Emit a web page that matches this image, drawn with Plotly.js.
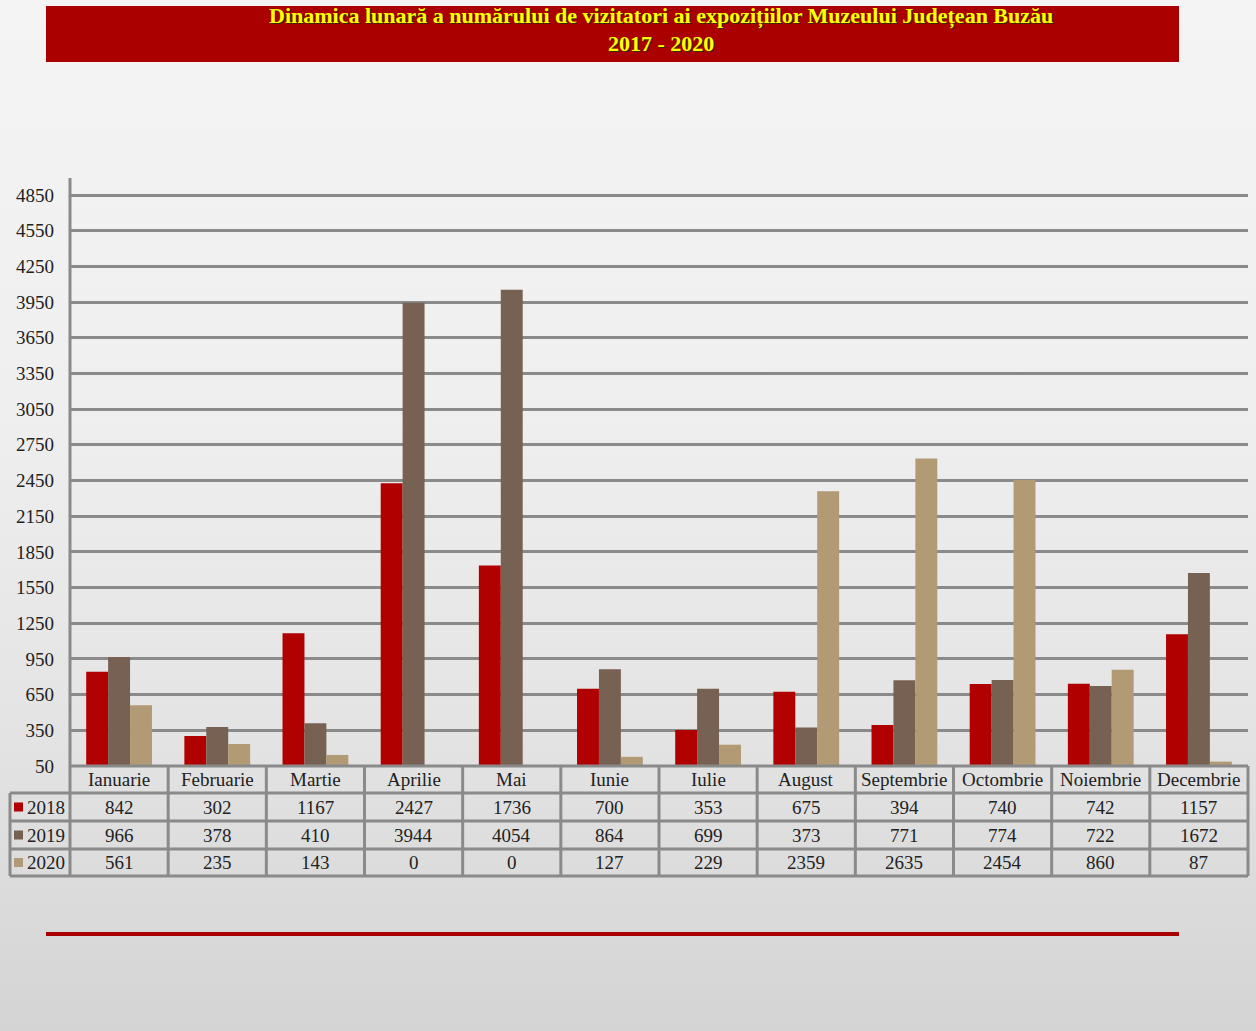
<!DOCTYPE html>
<html>
<head>
<meta charset="utf-8">
<script src="https://cdn.plot.ly/plotly-3.0.1.min.js"></script>
<style>
html,body{margin:0;padding:0;}
body{width:1256px;height:1031px;background:linear-gradient(180deg,#f4f4f4 0%,#efefef 40%,#e4e4e4 70%,#d4d4d4 100%);overflow:hidden;}
#chart{width:1256px;height:1031px;}
</style>
</head>
<body>
<div id="chart"></div>
<script>
const months = ["Ianuarie","Februarie","Martie","Aprilie","Mai","Iunie","Iulie","August","Septembrie","Octombrie","Noiembrie","Decembrie"];
const seriesNames = ["2018","2019","2020"];
const v2018 = [842,302,1167,2427,1736,700,353,675,394,740,742,1157];
const v2019 = [966,378,410,3944,4054,864,699,373,771,774,722,1672];
const v2020 = [561,235,143,0,0,127,229,2359,2635,2454,860,87];
const titleLines = ["Dinamica lunară a numărului de vizitatori ai expozițiilor Muzeului Județean Buzău","2017 - 2020"];

const values = [v2018, v2019, v2020];
const colors = ["#b00000","#766152","#b19a74"];
const serif = "Liberation Serif";
const fs = 19;

const traces = values.map((v,i)=>({
  type:"bar", x:months, y:v, name:seriesNames[i],
  marker:{color:colors[i]}, hoverinfo:"x+y+name"
}));

const H = 1031, W = 1256;
const mL = 70, mR = 8, mT = 178, mB = 265;
const plotW = W - mL - mR, plotH = H - mT - mB;
function py(pix){ return (H - mB - pix) / plotH; }
function px(pix){ return (pix - mL) / plotW; }
const rowEdges = [766, 793, 821, 849, 876];
const tableLeft = 10;
const gray = "#8a8a8a";

const shapes = [];
const annotations = [];
rowEdges.forEach((yy,k)=>{
  shapes.push({type:"line", xref:"paper", yref:"paper",
    x0: k===0 ? 0 : px(tableLeft), x1: 1, y0: py(yy), y1: py(yy),
    line:{color:gray, width:3}});
});
for(let c=0;c<=months.length;c++){
  const xx = c/months.length;
  shapes.push({type:"line", xref:"paper", yref:"paper", x0:xx, x1:xx,
    y0: py(rowEdges[0]), y1: py(rowEdges[4]), line:{color:gray, width:3}});
}
shapes.push({type:"line", xref:"paper", yref:"paper", x0:px(tableLeft), x1:px(tableLeft),
  y0: py(rowEdges[1]), y1: py(rowEdges[4]), line:{color:gray, width:3}});

months.forEach((m)=>{
  annotations.push({xref:"x", yref:"paper", x:m, y:py((rowEdges[0]+rowEdges[1])/2),
    text:m, showarrow:false, font:{family:serif, size:fs, color:"#222"}, yanchor:"middle"});
});
values.forEach((v,i)=>{
  const yc = py((rowEdges[i+1]+rowEdges[i+2])/2);
  v.forEach((val,j)=>{
    annotations.push({xref:"x", yref:"paper", x:months[j], y:yc, text:String(val),
      showarrow:false, font:{family:serif, size:fs, color:"#222"}, yanchor:"middle"});
  });
  shapes.push({type:"rect", xref:"paper", yref:"paper", x0:px(14), x1:px(23),
    y0: yc - 4.5/plotH, y1: yc + 4.5/plotH, fillcolor:colors[i], line:{width:0}});
  annotations.push({xref:"paper", yref:"paper", x:px(25), y:yc, text:seriesNames[i],
    xanchor:"left", yanchor:"middle", showarrow:false, font:{family:serif, size:fs, color:"#222"}});
});

shapes.push({type:"rect", xref:"paper", yref:"paper", x0:px(46), x1:px(1179),
  y0: py(62), y1: py(6), fillcolor:"#ab0000", line:{width:0}, layer:"below"});
shapes.push({type:"line", xref:"paper", yref:"paper", x0:px(46), x1:px(1179),
  y0: py(934), y1: py(934), line:{color:"#a80000", width:4}});
shapes.push({type:"line", xref:"paper", yref:"paper", x0:0, x1:0,
  y0: 0, y1: 1, line:{color:gray, width:3}});

titleLines.forEach((t,k)=>{
  const yy = k===0 ? 16 : 43;
  annotations.push({xref:"paper", yref:"paper", x:px(661+1.5), y:py(yy+1.5), text:"<b>"+t+"</b>",
    showarrow:false, font:{family:serif, size:22, color:"#3a2a00"}, xanchor:"center", yanchor:"middle"});
  annotations.push({xref:"paper", yref:"paper", x:px(661), y:py(yy), text:"<b>"+t+"</b>",
    showarrow:false, font:{family:serif, size:22, color:"#ffff00"}, xanchor:"center", yanchor:"middle"});
});

const layout = {
  width:W, height:H,
  margin:{l:mL, r:mR, t:mT, b:mB},
  paper_bgcolor:"rgba(0,0,0,0)", plot_bgcolor:"rgba(0,0,0,0)",
  showlegend:false,
  barmode:"group", bargap:0.33, bargroupgap:0,
  xaxis:{type:"category", showticklabels:false, showgrid:false, zeroline:false, showline:false, fixedrange:true},
  yaxis:{range:[50,4993], tick0:50, dtick:300, showgrid:true, gridcolor:gray, gridwidth:3,
    zeroline:false, showline:false, ticks:"", ticklabelstandoff:15,
    tickfont:{family:serif, size:fs, color:"#222"}, fixedrange:true},
  shapes:shapes, annotations:annotations
};

Plotly.newPlot("chart", traces, layout, {displayModeBar:false, staticPlot:true});
</script>
</body>
</html>
